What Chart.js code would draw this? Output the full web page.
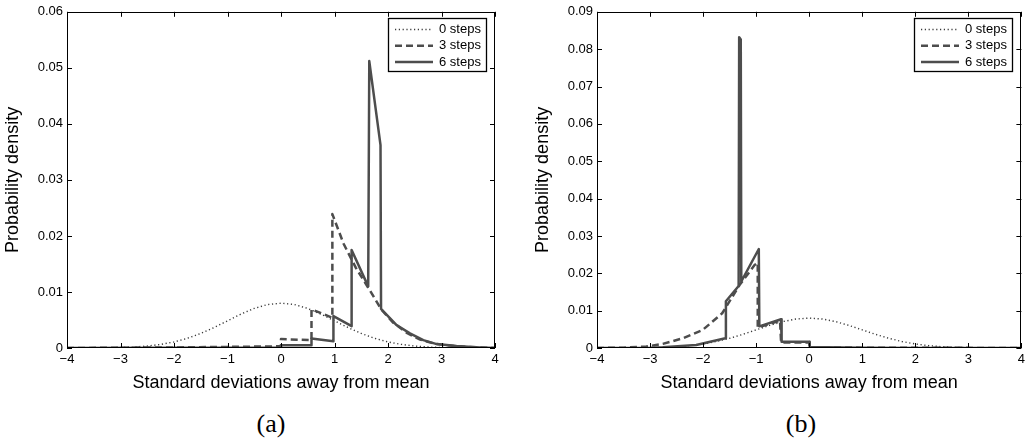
<!DOCTYPE html>
<html>
<head>
<meta charset="utf-8">
<script src="https://cdn.jsdelivr.net/npm/chart.js@4.4.1/dist/chart.umd.min.js"></script>
<style>
  html, body { margin: 0; padding: 0; background: #fff; }
  body { width: 1029px; height: 444px; position: relative; overflow: hidden; }
  canvas { position: absolute; top: 0; }
  #chartA { left: 0; }
  #chartB { left: 530px; }
  .panel { position: absolute; top: 411px; width: 60px; text-align: center;
           font: 26px/26px "Liberation Serif", "Times New Roman", serif; color: #000; }
</style>
</head>
<body>
<canvas id="chartA" width="515" height="398"></canvas>
<canvas id="chartB" width="499" height="398"></canvas>
<div class="panel" style="left:241px">(a)</div>
<div class="panel" style="left:771px">(b)</div>
<script>
// ticks
const xTicks = [-4, -3, -2, -1, 0, 1, 2, 3, 4];
const yTicksA = [0, 0.01, 0.02, 0.03, 0.04, 0.05, 0.06];
const yTicksB = [0, 0.01, 0.02, 0.03, 0.04, 0.05, 0.06, 0.07, 0.08, 0.09];
const stepLabels = ['0 steps', '3 steps', '6 steps'];

// 0 steps (same curve in both panels)
const normX = [-4, -3.5, -3, -2.75, -2.5, -2.25, -2, -1.75, -1.5, -1.25, -1, -0.75, -0.5, -0.25, 0,
               0.25, 0.5, 0.75, 1, 1.25, 1.5, 1.75, 2, 2.25, 2.5, 2.75, 3, 3.5, 4];
const normY = [0, 0.00002, 0.00009, 0.00018, 0.00035, 0.00064, 0.00108, 0.00173, 0.0026, 0.00366, 0.00485, 0.00604, 0.00706, 0.00776, 0.008,
               0.00776, 0.00706, 0.00604, 0.00485, 0.00366, 0.0026, 0.00173, 0.00108, 0.00064, 0.00035, 0.00018, 0.00009, 0.00002, 0];

// panel (a)
const a3X = [-4, -2, -1, 0, 0, 0.57, 0.57, 0.96, 0.96, 1.17, 1.4, 1.66, 1.88, 2.1, 2.35, 2.6, 2.9, 3.3, 3.7, 4];
const a3Y = [0, 0.0001, 0.0002, 0.0003, 0.0016, 0.0014, 0.0069, 0.0054, 0.0239, 0.0186, 0.0143, 0.0103, 0.0068, 0.0045, 0.0027, 0.0015, 0.0007, 0.0003, 0.0001, 0];
const a6X = [-4, 0, 0, 0.57, 0.57, 0.98, 0.98, 1.32, 1.32, 1.63, 1.65, 1.86, 1.87, 2.16, 2.41, 2.66, 2.91, 3.28, 3.72, 4];
const a6Y = [0, 0.0001, 0.0005, 0.0005, 0.0017, 0.0012, 0.0057, 0.0039, 0.0175, 0.011, 0.0512, 0.0362, 0.007, 0.0041, 0.0026, 0.0014, 0.0007, 0.00035, 0.0001, 0];

// panel (b)
const b3X = [-4, -3.5, -3.07, -2.76, -2.38, -2.01, -1.64, -1.31, -1.03, -0.97, -0.97, -0.55, -0.53, 0, 0.01, 1, 4];
const b3Y = [0, 0.0001, 0.0004, 0.0011, 0.0026, 0.0048, 0.0093, 0.0169, 0.0222, 0.0228, 0.0055, 0.0073, 0.0015, 0.0015, 0.0002, 0.0001, 0];
const b6X = [-4, -3, -2.76, -2.13, -1.58, -1.57, -1.33, -1.32, -1.29, -1.28, -0.95, -0.94, -0.53, -0.52, 0, 0.01, 1, 2, 4];
const b6Y = [0, 0.0001, 0.0002, 0.0008, 0.0026, 0.0125, 0.0166, 0.0832, 0.0826, 0.0178, 0.0265, 0.0058, 0.0077, 0.0017, 0.0017, 0.0003, 0.0001, 0, 0];

const FONT = '"Liberation Sans", Arial, Helvetica, sans-serif';

function pts(xs, ys) {
    return xs.map((x, i) => ({ x: x, y: ys[i] }));
}

// axes box, inward ticks and boxed legend (matlab style)
const frame = {
    id: 'frame',
    afterDatasetsDraw(chart) {
        const { ctx, chartArea, scales } = chart;
        const { left, right, top, bottom } = chartArea;
        ctx.save();
        ctx.strokeStyle = '#000';
        ctx.lineWidth = 1;
        ctx.beginPath();
        scales.x.ticks.forEach(t => {
            const px = Math.round(scales.x.getPixelForValue(t.value)) + 0.5;
            ctx.moveTo(px, bottom); ctx.lineTo(px, bottom - 5);
            ctx.moveTo(px, top); ctx.lineTo(px, top + 5);
        });
        scales.y.ticks.forEach(t => {
            const py = Math.round(scales.y.getPixelForValue(t.value)) + 0.5;
            ctx.moveTo(left, py); ctx.lineTo(left + 5, py);
            ctx.moveTo(right, py); ctx.lineTo(right - 5, py);
        });
        ctx.stroke();
        ctx.strokeRect(Math.round(left) + 0.5, Math.round(top) + 0.5,
                       Math.round(right - left) - 1, Math.round(bottom - top) - 1);

        // legend
        const bw = 98, bh = 53;
        const bx = Math.round(right - 9 - bw), by = Math.round(top + 6);
        ctx.fillStyle = '#fff';
        ctx.fillRect(bx, by, bw, bh);
        ctx.lineWidth = 1.3;
        ctx.strokeRect(bx + 0.5, by + 0.5, bw, bh);
        chart.data.datasets.forEach((ds, i) => {
            const ly = by + 11.5 + i * 16.3;
            ctx.save();
            ctx.strokeStyle = ds.borderColor;
            ctx.lineWidth = ds.borderWidth;
            ctx.setLineDash(ds.borderDash || []);
            ctx.beginPath();
            ctx.moveTo(bx + 7, ly);
            ctx.lineTo(bx + 45, ly);
            ctx.stroke();
            ctx.restore();
            ctx.fillStyle = '#000';
            ctx.font = '13px ' + FONT;
            ctx.textBaseline = 'middle';
            ctx.fillText(ds.label, bx + 51, ly);
        });
        ctx.restore();
    }
};

function makeChart(id, yTicks, rightPad, s3, s6) {
    const datasets = [
        { label: stepLabels[0], data: pts(normX, normY), borderColor: '#3a3a3a', borderWidth: 1.4, borderDash: [1.2, 2.6], order: 2 },
        { label: stepLabels[1], data: pts(s3[0], s3[1]), borderColor: '#4d4d4d', borderWidth: 2.5, borderDash: [7, 4], order: 1 },
        { label: stepLabels[2], data: pts(s6[0], s6[1]), borderColor: '#4d4d4d', borderWidth: 2.5, borderDash: [], order: 0 }
    ];
    return new Chart(document.getElementById(id), {
        type: 'line',
        data: { datasets: datasets },
        options: {
            responsive: false,
            animation: false,
            layout: { padding: { top: 11, right: rightPad, left: 0, bottom: 0 } },
            plugins: { legend: { display: false }, tooltip: { enabled: false } },
            elements: {
                point: { radius: 0 },
                line: { tension: 0, borderJoinStyle: 'round', fill: false }
            },
            scales: {
                x: {
                    type: 'linear',
                    min: xTicks[0],
                    max: xTicks[xTicks.length - 1],
                    afterBuildTicks: s => { s.ticks = xTicks.map(v => ({ value: v })); },
                    afterFit: s => { s.height = 50; },
                    grid: { display: false, drawTicks: false },
                    border: { display: false },
                    ticks: {
                        padding: 4, color: '#000', maxRotation: 0, autoSkip: false,
                        font: { family: FONT, size: 13 },
                        callback: v => (v < 0 ? '\u2212' + (-v) : String(v))
                    },
                    title: {
                        display: true, text: 'Standard deviations away from mean', color: '#000',
                        font: { family: FONT, size: 18 }, padding: { top: 0, bottom: 4 }
                    }
                },
                y: {
                    type: 'linear',
                    min: yTicks[0],
                    max: yTicks[yTicks.length - 1],
                    afterBuildTicks: s => { s.ticks = yTicks.map(v => ({ value: v })); },
                    afterFit: s => { s.width = 67; },
                    grid: { display: false, drawTicks: false },
                    border: { display: false },
                    ticks: {
                        padding: 4, color: '#000', autoSkip: false,
                        font: { family: FONT, size: 13 },
                        callback: v => (v === 0 ? '0' : v.toFixed(2))
                    },
                    title: {
                        display: true, text: 'Probability density', color: '#000',
                        font: { family: FONT, size: 18 }, padding: { top: 2, bottom: 0 }
                    }
                }
            }
        },
        plugins: [frame]
    });
}

makeChart('chartA', yTicksA, 20, [a3X, a3Y], [a6X, a6Y]);
makeChart('chartB', yTicksB, 4, [b3X, b3Y], [b6X, b6Y]);
</script>
</body>
</html>
